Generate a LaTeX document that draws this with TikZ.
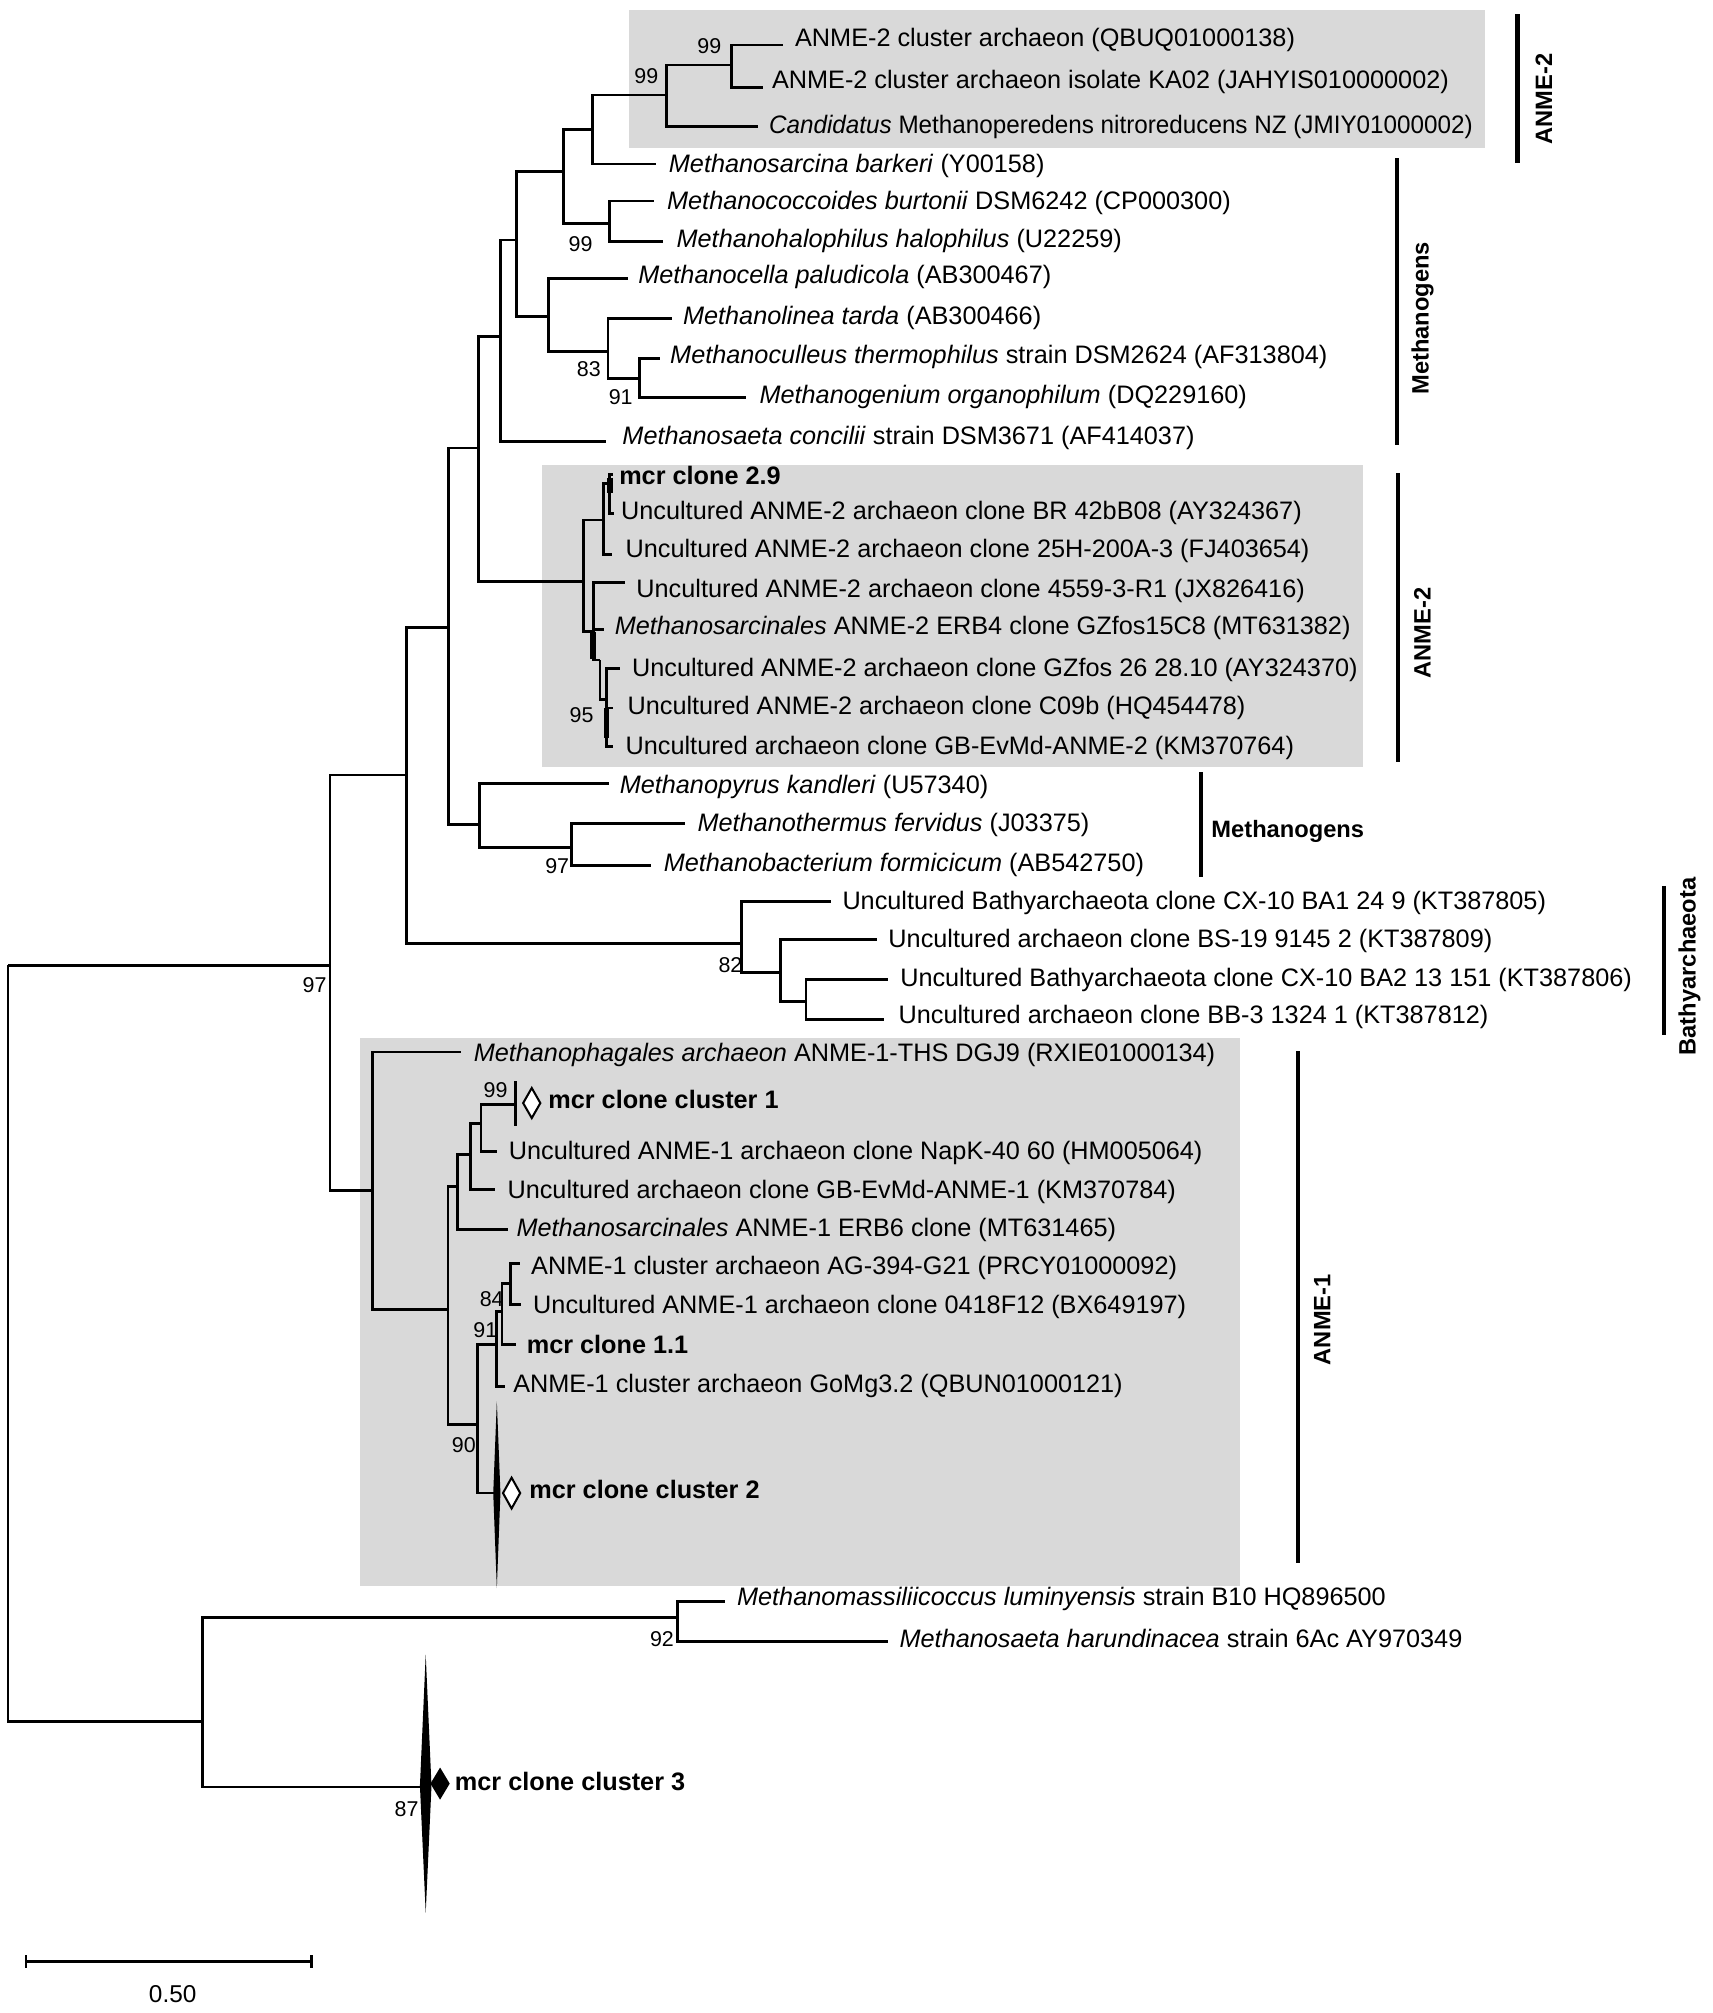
\documentclass[tikz,border=0pt]{standalone}
\usepackage{fontspec}
\setmainfont{Liberation Sans}
\definecolor{boxgray}{RGB}{217,217,217}
\begin{document}
\begin{tikzpicture}[x=0.02cm,y=-0.02cm,
  br/.style={line width=1.25pt},
  thickbr/.style={line width=2.4pt},
  cladebar/.style={line width=2pt},
  leaf/.style={anchor=base west, inner sep=0pt, font=\fontsize{11.2}{13}\selectfont},
  mcr/.style={anchor=base west, inner sep=0pt, font=\fontsize{11.2}{13}\selectfont\bfseries},
  boot/.style={inner sep=0pt, font=\fontsize{9.5}{11}\selectfont},
  clade/.style={inner sep=0pt, font=\fontsize{10.5}{12}\selectfont\bfseries},
  scalelab/.style={inner sep=0pt, font=\fontsize{10.8}{12}\selectfont},
]
\useasboundingbox (0,0) rectangle (1334,1568);
\fill[white] (0,0) rectangle (1334,1568);

% shaded clade boxes
\fill[boxgray] (490,8) rectangle (1157,115);
\fill[boxgray] (422.4,362.1) rectangle (1061.6,597.6);
\fill[boxgray] (280.8,808.6) rectangle (966.2,1235.6);

% internal nodes
\coordinate (root) at (6.3,751.8);
\coordinate (nA) at (257,751.8);
\coordinate (nB) at (316.7,603.7);
\coordinate (nC) at (349.3,488.5);
\coordinate (nD) at (372.8,349);
\coordinate (nE) at (390.1,262.2);
\coordinate (nI) at (402.6,186.9);
\coordinate (nG) at (438.8,133.7);
\coordinate (nF) at (461.3,101);
\coordinate (nOa) at (519,74);
\coordinate (nIa) at (569.8,50.6);
\coordinate (nH) at (474.6,173.9);
\coordinate (nJ) at (427.4,246.6);
\coordinate (nK) at (473.6,273.8);
\coordinate (nL) at (498.4,294.6);
\coordinate (nM) at (454.8,453);
\coordinate (nN) at (469.8,405);
\coordinate (nNb) at (475,376.4);
\coordinate (nO) at (462,491.9);
\coordinate (nOb) at (467.3,514.1);
\coordinate (nP) at (472.4,545.1);
\coordinate (nQ) at (373.5,642);
\coordinate (nR) at (445.2,659.9);
\coordinate (nS) at (577.6,734.6);
\coordinate (nT) at (608.2,757.5);
\coordinate (nU) at (627.8,780.1);
\coordinate (nV) at (290.2,927.6);
\coordinate (nX) at (348.9,1020.2);
\coordinate (nXa) at (356.3,924);
\coordinate (nXb) at (366.7,899.3);
\coordinate (nXc) at (374.7,875.4);
\coordinate (nAA) at (372.2,1109.7);
\coordinate (nY) at (387,1047.4);
\coordinate (nYa) at (391,1021.5);
\coordinate (nZ) at (397.6,1000);
\coordinate (nBB) at (158,1340.7);
\coordinate (nCC) at (527.6,1259.7);

% leaf tips
\coordinate (t1) at (610,35);
\coordinate (t2) at (594.6,68);
\coordinate (t3) at (590.5,98.6);
\coordinate (t4) at (511,127.7);
\coordinate (t5) at (509.3,156.5);
\coordinate (t6) at (516.8,188.2);
\coordinate (t7) at (489.5,216.7);
\coordinate (t8) at (523.2,247.9);
\coordinate (t9) at (514.3,279);
\coordinate (t10) at (581.3,309.4);
\coordinate (t11) at (472,343.9);
\coordinate (t12) at (477.5,369.9);
\coordinate (t13) at (478,400);
\coordinate (t14) at (477,432.2);
\coordinate (t15) at (486.8,453.5);
\coordinate (t16) at (470.6,490.6);
\coordinate (t17) at (482.8,520.4);
\coordinate (t18) at (477.6,551.5);
\coordinate (t19) at (477.6,581.4);
\coordinate (t20) at (474.5,610.5);
\coordinate (t21) at (533.3,641.2);
\coordinate (t22) at (507,674.4);
\coordinate (t23) at (647.4,702.2);
\coordinate (t24) at (683.3,732);
\coordinate (t25) at (691.7,762.7);
\coordinate (t26) at (688.5,794.3);
\coordinate (t27) at (358.8,819.4);
\coordinate (t28) at (401.5,860.5);
\coordinate (t29) at (387.5,896.8);
\coordinate (t30) at (385.8,926.6);
\coordinate (t31) at (395.5,957.4);
\coordinate (t32) at (405,984);
\coordinate (t33) at (406,1016);
\coordinate (t34) at (402,1047.4);
\coordinate (t35) at (393,1080);
\coordinate (t36) at (386,1163);
\coordinate (t37) at (564.8,1247.3);
\coordinate (t38) at (691.5,1278.4);
\coordinate (t39) at (330,1391.9);

% branches
\foreach \p/\c in {root/nA, root/nBB, nA/nB, nA/nV, nB/nC, nB/nS, nC/nD, nC/nQ,
  nD/nE, nD/nM, nE/nI, nE/t11, nI/nG, nI/nJ, nG/nF, nG/nH, nF/nOa, nF/t4,
  nOa/nIa, nOa/t3, nIa/t1, nIa/t2, nH/t5, nH/t6, nJ/t7, nJ/nK, nK/t8, nK/nL,
  nL/t9, nL/t10, nM/nN, nM/nO, nN/nNb, nN/t14, nNb/t12, nNb/t13,
  nO/t15, nO/t16, nO/nOb, nOb/nP, nP/t17, nP/t18, nP/t19, nQ/t20, nQ/nR, nR/t21, nR/t22,
  nS/t23, nS/nT, nT/t24, nT/nU, nU/t25, nU/t26, nV/t27, nV/nX, nX/nXa, nX/nAA,
  nXa/nXb, nXa/t31, nXb/nXc, nXb/t30, nXc/t28, nXc/t29, nAA/nY, nAA/t36,
  nY/nYa, nY/t35, nYa/nZ, nYa/t34, nZ/t32, nZ/t33, nBB/nCC, nBB/t39,
  nCC/t37, nCC/t38}
  \draw[br] (\p) |- (\c);

% thickened short internal segments
\draw[thickbr] (462,492) -- (462,513);
\draw[thickbr] (472.4,551.3) -- (472.4,574.7);
\draw[thickbr] (475,372) -- (475,384);

% collapsed clusters
\draw[br] (401.5,842.3) -- (401.5,877.4);
\fill (387,1091.6) -- (389.8,1163) -- (387,1237) -- (384.2,1163) -- cycle;
\fill (331.6,1288.8) -- (336.1,1391) -- (331.6,1490) -- (327.1,1391) -- cycle;
\draw[line width=0.9pt, fill=white] (414.2,847.5) -- (420.9,859.2) -- (414.2,870.9) -- (407.5,859.2) -- cycle;
\draw[line width=0.9pt, fill=white] (398.5,1151) -- (405.2,1163) -- (398.5,1175) -- (391.8,1163) -- cycle;
\fill (342.8,1376.8) -- (350.3,1389.3) -- (342.8,1401.8) -- (335.3,1389.3) -- cycle;

% leaf labels
\node[leaf] (l1) at (619,36.3) {ANME-2 cluster archaeon (QBUQ01000138)};
\node[leaf] (l2) at (601,68.8) {ANME-2 cluster archaeon isolate KA02 (JAHYIS010000002)};
\node[leaf] (l3) at (598.7,103.8) {\scalebox{0.96}[1]{\textit{Candidatus} Methanoperedens nitroreducens NZ (JMIY01000002)}};
\node[leaf] (l4) at (520.7,134) {\textit{Methanosarcina barkeri} (Y00158)};
\node[leaf] (l5) at (519.3,163.5) {\textit{Methanococcoides burtonii} DSM6242 (CP000300)};
\node[leaf] (l6) at (526.7,192.6) {\textit{Methanohalophilus halophilus} (U22259)};
\node[leaf] (l7) at (496.9,221.2) {\textit{Methanocella paludicola} (AB300467)};
\node[leaf] (l8) at (531.7,252.6) {\textit{Methanolinea tarda} (AB300466)};
\node[leaf] (l9) at (521.7,283.5) {\textit{Methanoculleus thermophilus} strain DSM2624 (AF313804)};
\node[leaf] (l10) at (591.3,314.1) {\textit{Methanogenium organophilum} (DQ229160)};
\node[leaf] (l11) at (484.5,346.5) {\textit{Methanosaeta concilii} strain DSM3671 (AF414037)};
\node[mcr] (l12) at (482,377.7) {mcr clone 2.9};
\node[leaf] (l13) at (483.5,404.4) {Uncultured ANME-2 archaeon clone BR 42bB08 (AY324367)};
\node[leaf] (l14) at (487,434) {Uncultured ANME-2 archaeon clone 25H-200A-3 (FJ403654)};
\node[leaf] (l15) at (495.4,465.2) {Uncultured ANME-2 archaeon clone 4559-3-R1 (JX826416)};
\node[leaf] (l16) at (478.5,494.5) {\textit{Methanosarcinales} ANME-2 ERB4 clone GZfos15C8 (MT631382)};
\node[leaf] (l17) at (492,527) {Uncultured ANME-2 archaeon clone GZfos 26 28.10 (AY324370)};
\node[leaf] (l18) at (488.5,556.8) {Uncultured ANME-2 archaeon clone C09b (HQ454478)};
\node[leaf] (l19) at (487,588) {Uncultured archaeon clone GB-EvMd-ANME-2 (KM370764)};
\node[leaf] (l20) at (482.4,617.8) {\textit{Methanopyrus kandleri} (U57340)};
\node[leaf] (l21) at (543,647.7) {\textit{Methanothermus fervidus} (J03375)};
\node[leaf] (l22) at (516.7,678.8) {\textit{Methanobacterium formicicum} (AB542750)};
\node[leaf] (l23) at (655.9,708.7) {Uncultured Bathyarchaeota clone CX-10 BA1 24 9 (KT387805)};
\node[leaf] (l24) at (691.7,737.8) {Uncultured archaeon clone BS-19 9145 2 (KT387809)};
\node[leaf] (l25) at (700.9,768.4) {Uncultured Bathyarchaeota clone CX-10 BA2 13 151 (KT387806)};
\node[leaf] (l26) at (699.6,797.5) {Uncultured archaeon clone BB-3 1324 1 (KT387812)};
\node[leaf] (l27) at (368.7,826.5) {\textit{Methanophagales archaeon} ANME-1-THS DGJ9 (RXIE01000134)};
\node[mcr] (l28) at (426.8,863.1) {mcr clone cluster 1};
\node[leaf] (l29) at (396,903.3) {Uncultured ANME-1 archaeon clone NapK-40 60 (HM005064)};
\node[leaf] (l30) at (395,933.2) {Uncultured archaeon clone GB-EvMd-ANME-1 (KM370784)};
\node[leaf] (l31) at (402,963.1) {\textit{Methanosarcinales} ANME-1 ERB6 clone (MT631465)};
\node[leaf] (l32) at (413.4,992.9) {ANME-1 cluster archaeon AG-394-G21 (PRCY01000092)};
\node[leaf] (l33) at (415,1022.8) {Uncultured ANME-1 archaeon clone 0418F12 (BX649197)};
\node[mcr] (l34) at (410,1053.9) {mcr clone 1.1};
\node[leaf] (l35) at (399.5,1084.6) {ANME-1 cluster archaeon GoMg3.2 (QBUN01000121)};
\node[mcr] (l36) at (412,1166.9) {mcr clone cluster 2};
\node[leaf] (l37) at (573.8,1250.6) {\textit{Methanomassiliicoccus luminyensis} strain B10 HQ896500};
\node[leaf] (l38) at (700.4,1283.6) {\textit{Methanosaeta harundinacea} strain 6Ac AY970349};
\node[mcr] (l39) at (354,1394.5) {mcr clone cluster 3};

% bootstrap values
\node[boot] (b1) at (552.5,36.3) {99};
\node[boot] (b2) at (503.4,59.2) {99};
\node[boot] (b3) at (452.2,190) {99};
\node[boot] (b4) at (458.7,287.6) {83};
\node[boot] (b5) at (483.5,309.4) {91};
\node[boot] (b6) at (453,556.8) {95};
\node[boot] (b7) at (434,675) {97};
\node[boot] (b8) at (569,751.5) {82};
\node[boot] (b9) at (245,767.6) {97};
\node[boot] (b10) at (386,849) {99};
\node[boot] (b11) at (383,1012) {84};
\node[boot] (b12) at (378,1035.8) {91};
\node[boot] (b13) at (361.3,1125.3) {90};
\node[boot] (b14) at (515.6,1277) {92};
\node[boot] (b15) at (316.7,1409) {87};

% clade bars and labels
\draw[cladebar] (1182,11) -- (1182,126.7);
\node[clade, rotate=90] (c1) at (1202.5,77) {ANME-2};
\draw[cladebar] (1088,123.3) -- (1088,346.5);
\node[clade, rotate=90] (c2) at (1108,248) {Methanogens};
\draw[cladebar] (1088.9,368.6) -- (1088.9,593.2);
\node[clade, rotate=90] (c3) at (1108,493) {ANME-2};
\draw[cladebar] (935.4,601.7) -- (935.4,683.2);
\node[clade, anchor=base west] (c4) at (943.3,652) {Methanogens};
\draw[cladebar] (1296.3,690) -- (1296.3,806);
\node[clade, rotate=90] (c5) at (1316,752.8) {Bathyarchaeota};
\draw[cladebar] (1011,819) -- (1011,1217.5);
\node[clade, rotate=90] (c6) at (1030,1028) {ANME-1};

% scale bar
\coordinate (sbl) at (20.2,1527.7);
\coordinate (sbr) at (242.7,1527.7);
\draw[br] (sbl) -- (sbr);
\draw[br] ([yshift=-0.1cm]sbl) -- ([yshift=0.1cm]sbl);
\draw[br] ([yshift=-0.1cm]sbr) -- ([yshift=0.1cm]sbr);
\node[scalelab] (sbt) at (134.5,1553.6) {0.50};
\end{tikzpicture}
\end{document}
